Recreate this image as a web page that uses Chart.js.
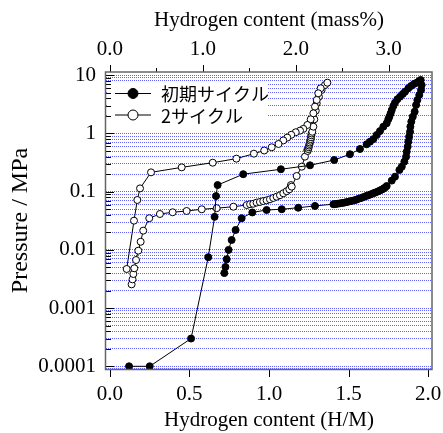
<!DOCTYPE html>
<html>
<head>
<meta charset="utf-8">
<script src="https://cdn.jsdelivr.net/npm/chart.js@4/dist/chart.umd.min.js"></script>
<style>
  html, body { margin: 0; padding: 0; background: #fff; }
  #wrap { width: 443px; height: 433px; position: relative; }
</style>
</head>
<body>
<div id="wrap"><canvas id="c" width="443" height="433"></canvas></div>
<script>
// ---- data ----
const seriesNames = ['初期サイクル', '2サイクル'];

// 初期サイクル (filled): absorption then desorption
const firstX = [0.12, 0.25, 0.51, 0.618, 0.658, 0.667, 0.677, 0.838, 1.075, 1.258, 1.41, 1.509, 1.572, 1.614, 1.635, 1.656, 1.677, 1.698, 1.719, 1.74, 1.75, 1.757, 1.765, 1.772, 1.782, 1.792, 1.807, 1.824, 1.841, 1.855, 1.876, 1.893, 1.912, 1.929, 1.945, 1.954,
  1.96, 1.956, 1.945, 1.933, 1.925, 1.916, 1.904, 1.895, 1.889, 1.887, 1.881, 1.876, 1.872, 1.866, 1.862, 1.851, 1.835, 1.82, 1.792, 1.772, 1.74,
  1.73, 1.72, 1.71, 1.698, 1.685, 1.67, 1.656, 1.64, 1.625, 1.61, 1.595, 1.58, 1.565, 1.55, 1.535, 1.52, 1.505, 1.49, 1.475, 1.46, 1.445, 1.43, 1.418, 1.405,
  1.289, 1.184, 1.08, 0.985, 0.895, 0.828, 0.79, 0.765, 0.746, 0.734, 0.726, 0.719];
const firstY = [0.0001, 0.0001, 0.0003, 0.0075, 0.037, 0.084, 0.13, 0.20, 0.243, 0.284, 0.35, 0.44, 0.542, 0.652, 0.723, 0.80, 0.94, 1.10, 1.31, 1.50, 1.75, 1.94, 2.22, 2.53, 2.97, 3.38, 3.87, 4.29, 4.77, 5.2, 5.98, 6.55, 7.1, 7.46, 7.98, 8.3,
  6.8, 5.6, 4.59, 3.76, 3.09, 2.37, 1.94, 1.60, 1.31, 1.07, 0.88, 0.72, 0.593, 0.487, 0.40, 0.328, 0.269, 0.236, 0.181, 0.155, 0.125,
  0.118, 0.113, 0.109, 0.105, 0.101, 0.097, 0.094, 0.090, 0.087, 0.084, 0.081, 0.078, 0.076, 0.073, 0.071, 0.0695, 0.068, 0.0665, 0.065, 0.064, 0.063, 0.062, 0.0615, 0.061,
  0.057, 0.053, 0.050, 0.0485, 0.044, 0.035, 0.022, 0.0148, 0.0100, 0.0069, 0.0051, 0.0040];

// 2サイクル (open): absorption then desorption
const secondX = [0.136, 0.142, 0.147, 0.153, 0.164, 0.178, 0.193, 0.209, 0.247, 0.314, 0.394, 0.482, 0.577, 0.671, 0.776, 0.86,
  0.881, 0.901, 0.922, 0.943, 0.964, 0.985, 1.006, 1.027, 1.048, 1.069, 1.09, 1.111, 1.128, 1.138, 1.143, 1.174, 1.206, 1.226, 1.241,
  1.243, 1.247, 1.250, 1.252, 1.255, 1.257, 1.260, 1.262, 1.264, 1.266, 1.268, 1.272, 1.279, 1.285, 1.294, 1.30, 1.314, 1.331, 1.352, 1.367,
  1.325, 1.31, 1.30, 1.289, 1.279, 1.262, 1.241, 1.216, 1.195, 1.168, 1.14, 1.115, 1.09, 1.06, 1.017, 0.97, 0.905, 0.795, 0.646, 0.451, 0.258, 0.189, 0.172, 0.151, 0.105];
const secondY = [0.00256, 0.00312, 0.00385, 0.00483, 0.0067, 0.0097, 0.0138, 0.0214, 0.035, 0.0414, 0.0443, 0.0466, 0.0499, 0.0521, 0.0552, 0.059,
  0.061, 0.062, 0.065, 0.0666, 0.069, 0.071, 0.074, 0.078, 0.082, 0.087, 0.094, 0.102, 0.110, 0.13, 0.122, 0.186, 0.269, 0.40, 0.52,
  0.50, 0.54, 0.58, 0.62, 0.66, 0.70, 0.75, 0.80, 0.86, 0.93, 1.0, 1.07, 1.31, 1.75, 2.46, 3.3, 4.29, 5.6, 6.8, 7.46,
  5.98, 4.91, 3.76, 2.89, 2.22, 1.75, 1.40, 1.2, 1.12, 1.05, 0.95, 0.85, 0.76, 0.66, 0.58, 0.51, 0.45, 0.37, 0.315, 0.262, 0.215, 0.114, 0.072, 0.0318, 0.0047];

const bottomTicks = [0.0, 0.5, 1.0, 1.5, 2.0];
const topTicks = [0.0, 0.5, 1.0, 1.5, 2.0, 2.5, 3.0];
const topLabelled = [0.0, 1.0, 2.0, 3.0];
const yMajorTicks = [0.0001, 0.001, 0.01, 0.1, 1, 10];
const massPerHM = 1.712;   // mass% per H/M (top axis conversion)

// ---- chart ----
const SERIF = '"Liberation Serif", "Times New Roman", serif';
const pts = (xs, ys) => xs.map((x, i) => ({ x: x, y: ys[i] }));
const X_MIN = -0.025, X_MAX = 2.025;
const Y_MIN = 8.99e-5, Y_MAX = 11.39;

function allLogTicks() {
  const out = [];
  for (let e = -5; e <= 1; e++) {
    for (let m = 1; m <= 9; m++) {
      const v = parseFloat((m * Math.pow(10, e)).toPrecision(6));
      if (v >= Y_MIN && v <= Y_MAX) out.push(v);
    }
  }
  return out;
}
const isMajor = v => Math.abs(Math.log10(v) - Math.round(Math.log10(v))) < 1e-9;
const noPad = s => { s.paddingLeft = 0; s.paddingRight = 0; s.paddingTop = 0; s.paddingBottom = 0; };

const framePlugin = {
  id: 'frame',
  beforeDatasetsDraw(chart) {
    const { ctx, chartArea: a } = chart;
    ctx.save();
    ctx.fillStyle = '#fff';
    ctx.fillRect(a.left + 1, 82, 268 - a.left - 1, 45);
    ctx.restore();
  },
  afterDraw(chart) {
    const { ctx, chartArea: a, scales } = chart;
    ctx.save();
    ctx.strokeStyle = '#000';
    ctx.lineWidth = 1;
    scales.y.ticks.forEach(t => {
      const y = Math.round(scales.y.getPixelForValue(t.value)) + 0.5;
      const len = isMajor(t.value) ? 8 : 5;
      ctx.beginPath(); ctx.moveTo(a.left, y); ctx.lineTo(a.left + len, y); ctx.stroke();
    });
    bottomTicks.forEach(v => {
      const x = Math.round(scales.x.getPixelForValue(v)) + 0.5;
      ctx.beginPath(); ctx.moveTo(x, a.bottom); ctx.lineTo(x, a.bottom + 8); ctx.stroke();
    });
    topTicks.forEach(v => {
      const x = Math.round(scales.x2.getPixelForValue(v)) + 0.5;
      const len = topLabelled.includes(v) ? 7 : 4;
      ctx.beginPath(); ctx.moveTo(x, a.top); ctx.lineTo(x, a.top - len); ctx.stroke();
    });
    ctx.strokeStyle = '#666';
    ctx.lineWidth = 1.5;
    ctx.strokeRect(a.left - 0.5, a.top, a.right - a.left + 0.5, a.bottom - a.top + 0.5);
    const rows = [
      { y: 93.5, fill: '#000', label: seriesNames[0] },
      { y: 115, fill: '#fff', label: seriesNames[1] }
    ];
    rows.forEach(r => {
      ctx.strokeStyle = '#000';
      ctx.lineWidth = 1;
      ctx.beginPath(); ctx.moveTo(115, r.y); ctx.lineTo(151, r.y); ctx.stroke();
      ctx.beginPath(); ctx.arc(133, r.y, 5, 0, Math.PI * 2);
      ctx.fillStyle = r.fill; ctx.fill(); ctx.stroke();
      ctx.fillStyle = '#000';
      ctx.font = '18px "Noto Sans CJK JP", "Noto Sans", sans-serif';
      ctx.textBaseline = 'middle';
      ctx.textAlign = 'left';
      ctx.fillText(r.label, 161, r.y + 1);
    });
    ctx.restore();
  }
};

new Chart(document.getElementById('c'), {
  type: 'scatter',
  data: {
    datasets: [
      {
        label: seriesNames[0],
        data: pts(firstX, firstY),
        showLine: true,
        borderColor: '#000',
        borderWidth: 1,
        pointRadius: 3.5,
        pointBackgroundColor: '#000',
        pointBorderColor: '#000',
        pointBorderWidth: 1
      },
      {
        label: seriesNames[1],
        data: pts(secondX, secondY),
        showLine: true,
        borderColor: '#000',
        borderWidth: 1,
        pointRadius: 3.5,
        pointBackgroundColor: '#fff',
        pointBorderColor: '#000',
        pointBorderWidth: 1
      }
    ]
  },
  options: {
    responsive: false,
    animation: false,
    events: [],
    layout: { padding: { left: 0, right: 11, top: 0, bottom: 0 } },
    plugins: { legend: { display: false }, tooltip: { enabled: false } },
    scales: {
      x: {
        type: 'linear', position: 'bottom', min: X_MIN, max: X_MAX,
        afterBuildTicks: s => { s.ticks = bottomTicks.map(v => ({ value: v })); },
        afterFit: s => { s.height = 64; noPad(s); },
        grid: { display: false, drawTicks: false },
        border: { display: false },
        ticks: { color: '#000', font: { family: SERIF, size: 21 }, padding: 13, maxRotation: 0, autoSkip: false,
          callback: v => Number(v).toFixed(1) },
        title: { display: true, text: 'Hydrogen content (H/M)', color: '#000', font: { family: SERIF, size: 21 }, padding: { top: 0, bottom: 0 } }
      },
      x2: {
        type: 'linear', position: 'top', min: X_MIN * massPerHM, max: X_MAX * massPerHM,
        afterBuildTicks: s => { s.ticks = topLabelled.map(v => ({ value: v })); },
        afterFit: s => { s.height = 72; noPad(s); },
        grid: { display: false, drawTicks: false },
        border: { display: false },
        ticks: { color: '#000', font: { family: SERIF, size: 21 }, padding: 10, maxRotation: 0, autoSkip: false,
          callback: v => Number(v).toFixed(1) },
        title: { display: true, text: 'Hydrogen content (mass%)', color: '#000', font: { family: SERIF, size: 21 }, padding: { top: 8, bottom: 0 } }
      },
      y: {
        type: 'logarithmic', position: 'left', min: Y_MIN, max: Y_MAX,
        afterBuildTicks: s => { s.ticks = allLogTicks().map(v => ({ value: v })); },
        afterFit: s => { s.width = 106; noPad(s); },
        grid: { color: 'rgba(70,70,255,0.85)', lineWidth: 1, drawTicks: false },
        border: { display: false, dash: [1, 1] },
        ticks: { color: '#000', font: { family: SERIF, size: 21 }, padding: 10, autoSkip: false,
          callback: v => isMajor(v) ? String(yMajorTicks.find(m => Math.abs(m - v) / m < 1e-6)) : '' },
        title: { display: true, text: 'Pressure / MPa', color: '#000', font: { family: SERIF, size: 24 }, padding: { top: 6, bottom: 0 } }
      }
    }
  },
  plugins: [framePlugin]
});
</script>
</body>
</html>
